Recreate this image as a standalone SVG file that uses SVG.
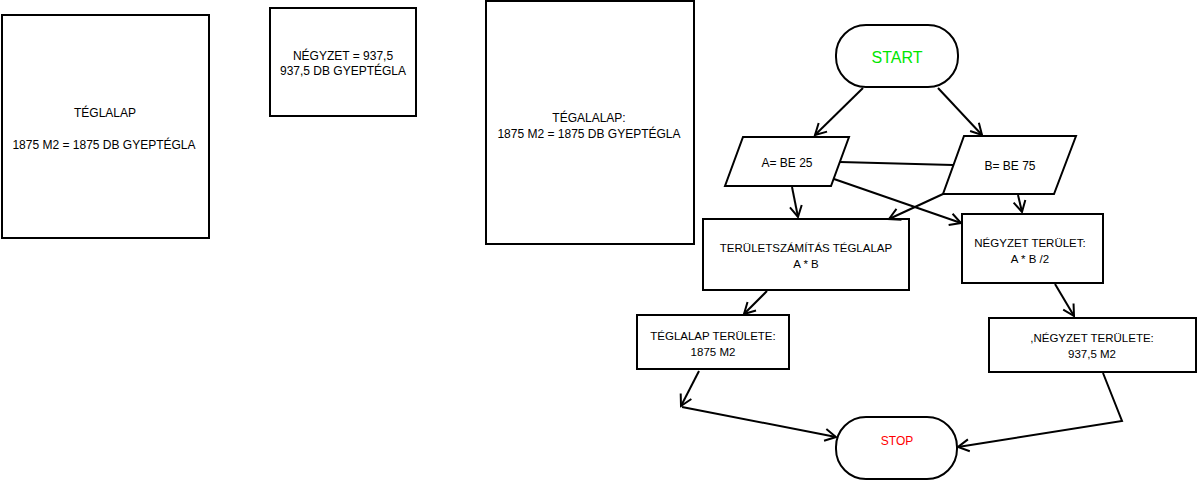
<svg xmlns="http://www.w3.org/2000/svg" width="1197" height="480" viewBox="0 0 1197 480">
<style>
.box{fill:#fff;stroke:#000;stroke-width:2}
.t{font-family:"Liberation Sans",Arial,sans-serif;font-size:12px;fill:#000;text-anchor:middle}
.f{font-size:11.5px}
.con{fill:none;stroke:#000;stroke-width:2}
</style>
<defs>
<marker id="arr" markerUnits="userSpaceOnUse" markerWidth="16" markerHeight="16" viewBox="-13 -8 16 16" refX="0" refY="0" orient="auto">
<path d="M-11,-6 L0,0 L-11,6" fill="none" stroke="#000" stroke-width="2"/>
</marker>
</defs>
<rect width="1197" height="480" fill="#fff"/>
<g id="n-teglalap-left">
<rect class="box" x="2" y="15" width="207" height="223"/>
<text class="t" x="105" y="117">TÉGLALAP</text>
<text class="t" x="104" y="149">1875 M2 = 1875 DB GYEPTÉGLA</text>
</g>
<g id="n-negyzet-top">
<rect class="box" x="270" y="8" width="146" height="108"/>
<text class="t" x="343" y="60">NÉGYZET = 937,5</text>
<text class="t" x="343" y="75">937,5 DB GYEPTÉGLA</text>
</g>
<g id="n-tegalalap">
<rect class="box" x="486" y="1" width="208" height="243"/>
<text class="t" x="589" y="122">TÉGALALAP:</text>
<text class="t" x="589" y="138">1875 M2 = 1875 DB GYEPTÉGLA</text>
</g>
<g id="n-start">
<rect class="box" x="836" y="25" width="122" height="62" rx="30" ry="30"/>
<text class="t" x="897" y="63" style="font-size:16px;fill:#00e600">START</text>
</g>
<g id="n-a">
<polygon class="box" points="743,137 849,137 831,186 725,186"/>
<text class="t" x="787" y="167">A= BE 25</text>
</g>
<g id="n-b">
<polygon class="box" points="964,136 1076,136 1054,194 943,194"/>
<text class="t" x="1010" y="170">B= BE 75</text>
</g>
<g id="n-teruletszamitas">
<rect class="box" x="703" y="219" width="206" height="71"/>
<text class="t f" x="806" y="252">TERÜLETSZÁMÍTÁS TÉGLALAP</text>
<text class="t f" x="806" y="268">A * B</text>
</g>
<g id="n-negyzet-terulet">
<rect class="box" x="962" y="214" width="141" height="69"/>
<text class="t f" x="1030" y="247">NÉGYZET TERÜLET:</text>
<text class="t f" x="1030" y="263">A * B /2</text>
</g>
<g id="n-teglalap-terulete">
<rect class="box" x="637" y="315" width="152" height="54"/>
<text class="t f" x="713" y="340">TÉGLALAP TERÜLETE:</text>
<text class="t f" x="713" y="356">1875 M2</text>
</g>
<g id="n-negyzet-terulete">
<rect class="box" x="989" y="318" width="207" height="54"/>
<text class="t f" x="1092" y="342">,NÉGYZET TERÜLETE:</text>
<text class="t f" x="1092" y="358">937,5 M2</text>
</g>
<g id="n-stop">
<rect class="box" x="836" y="417" width="121" height="62" rx="30" ry="30"/>
<text class="t" x="897" y="445" style="fill:#ff0000">STOP</text>
</g>
<g id="connectors">
<path class="con" d="M863,88 L815,135" marker-end="url(#arr)"/>
<path class="con" d="M938,88 L982,135" marker-end="url(#arr)"/>
<path class="con" d="M840,162 L953,165"/>
<path class="con" d="M834,179 L961,223" marker-end="url(#arr)"/>
<path class="con" d="M792,187 L798,217" marker-end="url(#arr)"/>
<path class="con" d="M943,194 L889,219" marker-end="url(#arr)"/>
<path class="con" d="M1018,195 L1022,212" marker-end="url(#arr)"/>
<path class="con" d="M767,291 L744,314" marker-end="url(#arr)"/>
<path class="con" d="M1055,284 L1074,316" marker-end="url(#arr)"/>
<path class="con" d="M699,371 L681,406" marker-end="url(#arr)"/>
<path class="con" d="M682,407 L836,437" marker-end="url(#arr)"/>
<path class="con" d="M1103,373 L1122,421 L958,447" marker-end="url(#arr)"/>
</g>
</svg>
